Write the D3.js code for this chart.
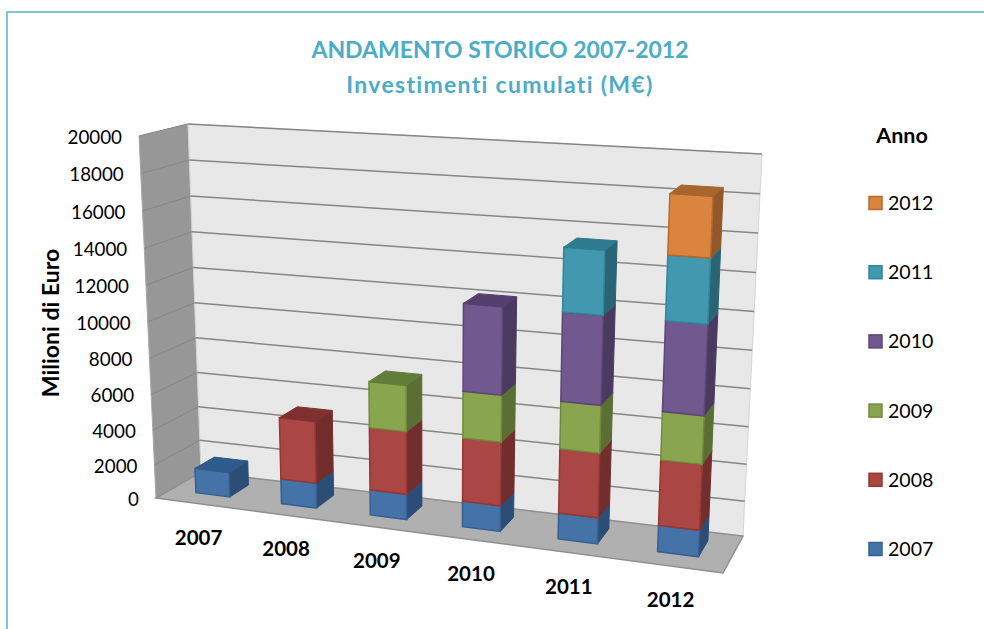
<!DOCTYPE html>
<html>
<head>
<meta charset="utf-8">
<script src="https://cdn.jsdelivr.net/npm/d3@7"></script>
<style>
html, body { margin: 0; padding: 0; background: #fff; overflow: hidden; }
text { font-family: Lato, "Open Sans", sans-serif; fill: #000; font-variant-ligatures: none; }
</style>
</head>
<body>
<svg id="chart" width="984" height="629" style="display:block"></svg>
<script>
const years = ["2007", "2008", "2009", "2010", "2011", "2012"];
const yTicks = [0, 2000, 4000, 6000, 8000, 10000, 12000, 14000, 16000, 18000, 20000];
const legendOrder = ["2012", "2011", "2010", "2009", "2008", "2007"];

// stacked series, one value per category (0 = not present yet)
const s2007 = [1500, 1500, 1500, 1500, 1500, 1500];
const s2008 = [0, 3480, 3480, 3480, 3480, 3480];
const s2009 = [0, 0, 2500, 2500, 2500, 2500];
const s2010 = [0, 0, 0, 4620, 4620, 4620];
const s2011 = [0, 0, 0, 0, 3300, 3300];
const s2012 = [0, 0, 0, 0, 0, 3050];

const series = [s2007, s2008, s2009, s2010, s2011, s2012];
const colors = {
  front: ["#4573a7", "#aa4643", "#89a54e", "#71588f", "#4198af", "#db843d"],
  side: ["#2c4d75", "#722e2c", "#5b6e34", "#4a3a60", "#2a6575", "#93582a"],
  top: ["#2f5a8c", "#7d302f", "#627d39", "#533e6d", "#2e7b8f", "#a8662f"],
  edge: ["#376092", "#953735", "#71893f", "#5c4776", "#31859c", "#b7692c"]
};

const svg = d3.select("#chart");

// frame is cut off by the picture on the right and at the bottom
svg.append("path")
  .attr("d", "M7,640V12H990")
  .attr("fill", "none")
  .attr("stroke", "#7fc6d8")
  .attr("stroke-width", 2);

// corners of the 3d box on screen
const corners = {
  f0b: [156, 498], f1b: [723, 573], f0t: [139, 136], f1t: [740, 173],
  b0b: [201, 472], b1b: [743, 536], b0t: [188, 124], b1t: [762, 154]
};

const lerp = (a, b, t) => [a[0] + (b[0] - a[0]) * t, a[1] + (b[1] - a[1]) * t];

function project(u, v, w) {
  const bottom = lerp(lerp(corners.f0b, corners.f1b, u), lerp(corners.b0b, corners.b1b, u), w);
  const top = lerp(lerp(corners.f0t, corners.f1t, u), lerp(corners.b0t, corners.b1t, u), w);
  return lerp(bottom, top, v);
}

// x axis gets perspective, so bars get wider towards the right
const k = 1.12;
const persp = t => t / (t + k * (1 - t));
const x = d3.scaleBand().domain(years).range([0, 1]).paddingInner(0.6).paddingOuter(0.3);
const y = d3.scalePow().exponent(1.04).domain([0, 20000]).range([0, 1]);
const zFront = 0.33, zBack = 0.77;

const poly = pts => "M" + pts.map(p => p.join(",")).join("L") + "Z";
const P = (u, val, w) => project(u, y(val), w);

// walls and floor
svg.append("path")
  .attr("d", poly([P(0, 0, 0), P(0, 20000, 0), P(0, 20000, 1), P(0, 0, 1)]))
  .attr("fill", "#979797").attr("stroke", "#a8a8a8").attr("stroke-width", 1);
svg.append("path")
  .attr("d", poly([P(0, 0, 1), P(0, 20000, 1), P(1, 20000, 1), P(1, 0, 1)]))
  .attr("fill", "#e8e8e8").attr("stroke", "#d4d4d4").attr("stroke-width", 1);
svg.append("path")
  .attr("d", poly([P(0, 0, 0), P(0, 0, 1), P(1, 0, 1), P(1, 0, 0)]))
  .attr("fill", "#b0b0b0").attr("stroke", "#8f8f8f").attr("stroke-width", 1.5);

// gridlines
yTicks.forEach(t => {
  if (t > 0) {
    svg.append("path").attr("d", d3.line()([P(0, t, 0), P(0, t, 1)]))
      .attr("fill", "none").attr("stroke", "#868686").attr("stroke-width", 1);
    svg.append("path").attr("d", d3.line()([P(0, t, 1), P(1, t, 1)]))
      .attr("fill", "none").attr("stroke", "#868686").attr("stroke-width", 1.5);
  }
});

// bars, left to right and bottom to top
years.forEach((yr, i) => {
  const u0 = persp(x(yr)), u1 = persp(x(yr) + x.bandwidth());
  let base = 0;
  let last = -1;
  series.forEach((s, j) => {
    const val = s[i];
    if (!val) return;
    const t = base + val;
    svg.append("path")
      .attr("d", poly([P(u1, base, zFront), P(u1, t, zFront), P(u1, t, zBack), P(u1, base, zBack)]))
      .attr("fill", colors.side[j]).attr("stroke", colors.side[j]).attr("stroke-width", 1);
    svg.append("path")
      .attr("d", poly([P(u0, base, zFront), P(u0, t, zFront), P(u1, t, zFront), P(u1, base, zFront)]))
      .attr("fill", colors.front[j]).attr("stroke", colors.edge[j]).attr("stroke-width", 1.5);
    base = t;
    last = j;
  });
  svg.append("path")
    .attr("d", poly([P(u0, base, zFront), P(u0, base, zBack), P(u1, base, zBack), P(u1, base, zFront)]))
    .attr("fill", colors.top[last]).attr("stroke", colors.top[last]).attr("stroke-width", 1);
});

// y axis labels
yTicks.forEach(t => {
  const p = P(0, t, 0);
  svg.append("text")
    .attr("x", p[0] - 17).attr("y", p[1] + 3)
    .attr("text-anchor", "end").attr("dominant-baseline", "middle")
    .attr("font-size", 18.8)
    .text(t);
});

// category labels
years.forEach(yr => {
  const p = P(persp(x(yr) + x.bandwidth() / 2), 0, 0);
  svg.append("text")
    .attr("x", p[0]).attr("y", p[1] + 36)
    .attr("text-anchor", "middle").attr("dominant-baseline", "middle")
    .attr("font-size", 20.5).attr("font-weight", 700)
    .text(yr);
});

svg.append("text")
  .attr("transform", "translate(53,323) rotate(-90)")
  .attr("text-anchor", "middle").attr("dominant-baseline", "middle")
  .attr("font-size", 23).attr("font-weight", 700)
  .text("Milioni di Euro");

const title = svg.append("text")
  .attr("text-anchor", "middle")
  .attr("font-size", 23).attr("font-weight", 700)
  .style("fill", "#4bacc6");
title.append("tspan").attr("x", 500).attr("y", 58).text("ANDAMENTO STORICO 2007-2012");
title.append("tspan").attr("x", 500).attr("y", 93).attr("letter-spacing", 1.3)
  .text("Investimenti cumulati (M€)");

// legend
svg.append("text")
  .attr("x", 902).attr("y", 137)
  .attr("text-anchor", "middle").attr("dominant-baseline", "middle")
  .attr("font-size", 21.5).attr("font-weight", 700)
  .text("Anno");

const legendY = d3.scalePoint().domain(legendOrder).range([203, 549]);
legendOrder.forEach(yr => {
  const j = years.indexOf(yr);
  svg.append("rect")
    .attr("x", 869).attr("y", legendY(yr) - 6.5)
    .attr("width", 13).attr("height", 13)
    .attr("fill", colors.front[j])
    .attr("stroke", colors.edge[j]).attr("stroke-width", 1.5);
  svg.append("text")
    .attr("x", 888).attr("y", legendY(yr) + 2)
    .attr("dominant-baseline", "middle")
    .attr("font-size", 19.6)
    .text(yr);
});
</script>
</body>
</html>
